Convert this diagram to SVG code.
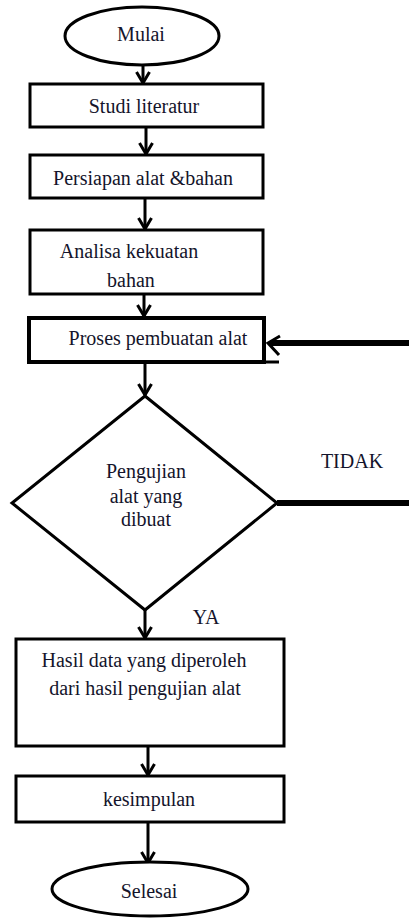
<svg xmlns="http://www.w3.org/2000/svg" width="409" height="918" viewBox="0 0 409 918">
<style>
.box{fill:#fff;stroke:#000;stroke-width:3}
.thick{fill:#fff;stroke:#000;stroke-width:4}
.t{font-family:'Liberation Serif','DejaVu Serif',serif;font-size:20px;fill:#14142b;text-anchor:middle}
.c{stroke:#000;stroke-width:3;fill:none}
.w{stroke:#000;stroke-width:6;fill:none}
</style>
<defs>
<marker id="ah" markerUnits="userSpaceOnUse" markerWidth="16" markerHeight="16" viewBox="0 0 16 16" refX="14" refY="8" orient="auto">
<path d="M3,1.5 L14,8 L3,14.5" fill="none" stroke="#000" stroke-width="3"/>
</marker>
</defs>
<rect width="409" height="918" fill="#fff"/>
<g id="connectors">
<line class="c" x1="143" y1="53" x2="143" y2="83" marker-end="url(#ah)"/>
<line class="c" x1="146" y1="127" x2="146" y2="154" marker-end="url(#ah)"/>
<line class="c" x1="145" y1="198" x2="145" y2="229" marker-end="url(#ah)"/>
<line class="c" x1="144" y1="294" x2="144" y2="316" marker-end="url(#ah)"/>
<line class="c" x1="145" y1="363" x2="145" y2="395" marker-end="url(#ah)"/>
<line class="c" x1="145" y1="610" x2="145" y2="638" marker-end="url(#ah)"/>
<line class="c" x1="148" y1="746" x2="148" y2="775" marker-end="url(#ah)"/>
<line class="c" x1="148" y1="822" x2="148" y2="863" marker-end="url(#ah)"/>
<line class="w" x1="277" y1="503" x2="409" y2="503"/>
<line class="w" x1="409" y1="343" x2="270" y2="343"/>
<path d="M280,336 L268,343 L279,355" fill="none" stroke="#000" stroke-width="3"/>
<line class="c" x1="262" y1="362" x2="279" y2="362"/>
</g>
<g id="mulai">
<ellipse class="box" cx="142" cy="36" rx="77" ry="29"/>
<text class="t" x="141" y="41" font-family="Liberation Serif, serif">Mulai</text>
</g>
<g id="studi">
<rect class="box" x="30" y="84" width="233" height="43"/>
<text class="t" x="144" y="113" font-family="Liberation Serif, serif">Studi literatur</text>
</g>
<g id="persiapan">
<rect class="box" x="30" y="155" width="233" height="43"/>
<text class="t" x="143" y="185" font-family="Liberation Serif, serif">Persiapan alat &amp;bahan</text>
</g>
<g id="analisa">
<rect class="box" x="30" y="230" width="233" height="64"/>
<text class="t" x="129" y="258" font-family="Liberation Serif, serif">Analisa kekuatan</text>
<text class="t" x="131" y="287" font-family="Liberation Serif, serif">bahan</text>
</g>
<g id="proses">
<rect class="thick" x="29" y="318" width="235" height="44"/>
<text class="t" x="158" y="345" font-family="Liberation Serif, serif">Proses pembuatan alat</text>
</g>
<g id="pengujian">
<polygon class="box" points="145,396 277,503 145,610 12,503"/>
<text class="t" x="146" y="478" font-family="Liberation Serif, serif">Pengujian</text>
<text class="t" x="146" y="503" font-family="Liberation Serif, serif">alat yang</text>
<text class="t" x="146" y="526" font-family="Liberation Serif, serif">dibuat</text>
</g>
<g id="label-tidak">
<text class="t" x="352" y="468" font-family="Liberation Serif, serif">TIDAK</text>
</g>
<g id="label-ya">
<text class="t" x="206" y="624" font-family="Liberation Serif, serif">YA</text>
</g>
<g id="hasil">
<rect class="box" x="16" y="639" width="268" height="107"/>
<text class="t" x="144" y="667" font-family="Liberation Serif, serif">Hasil data yang diperoleh</text>
<text class="t" x="145" y="695" font-family="Liberation Serif, serif">dari hasil pengujian alat</text>
</g>
<g id="kesimpulan">
<rect class="box" x="16" y="776" width="268" height="46"/>
<text class="t" x="149" y="806" font-family="Liberation Serif, serif">kesimpulan</text>
</g>
<g id="selesai">
<ellipse class="box" cx="150" cy="889" rx="98" ry="27"/>
<text class="t" x="149" y="898" font-family="Liberation Serif, serif">Selesai</text>
</g>
</svg>
